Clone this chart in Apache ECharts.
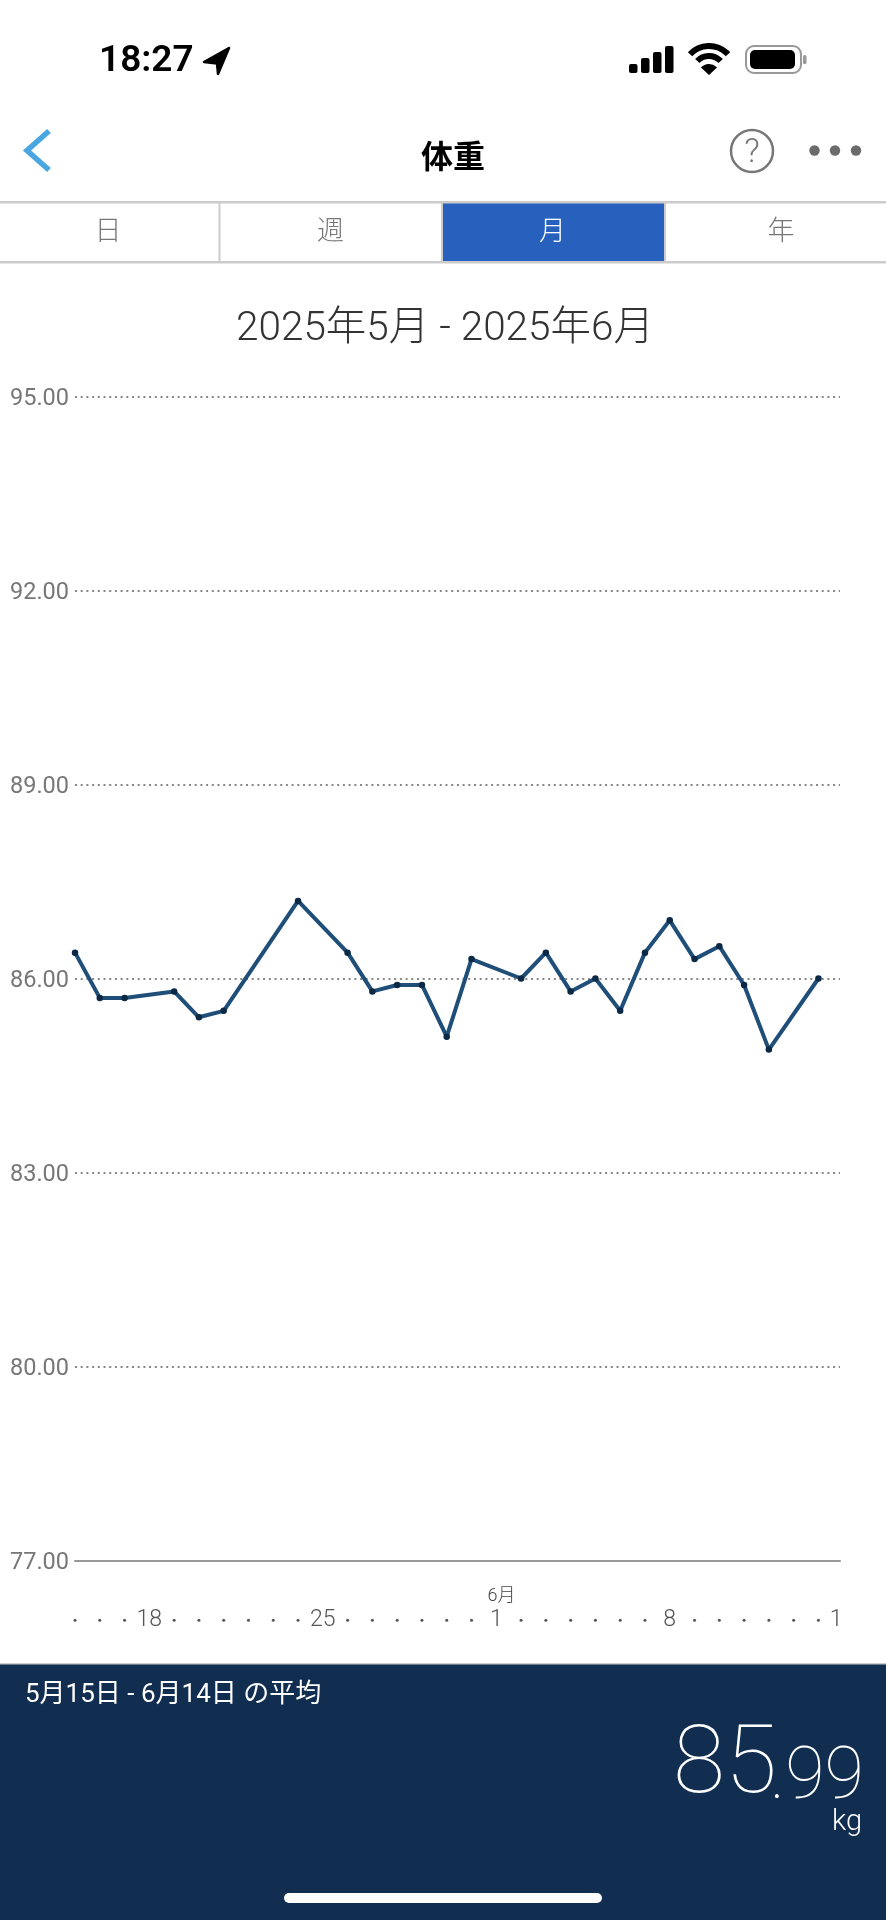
<!DOCTYPE html>
<html><head><meta charset="utf-8">
<style>html,body{margin:0;padding:0;background:#fff}#c{width:886px;height:1920px}</style>
<script src="https://cdn.jsdelivr.net/npm/echarts@6/dist/echarts.min.js"></script>
</head><body><div id="c"></div>
<script>
// day offset from 15 May 2025
const measuredDays = [0,1,2,4,5,6,9,11,12,13,14,15,16,18,19,20,21,22,23,24,25,26,27,28,30];
const weights = [86.4,85.7,85.7,85.8,85.4,85.5,87.2,86.4,85.8,85.9,85.9,85.1,86.3,86.0,86.4,85.8,86.0,85.5,86.4,86.9,86.3,86.5,85.9,84.9,86.0];
const yTicks = [77,80,83,86,89,92,95];
const xTickPositions = [0,1,2,3,4,5,6,7,8,9,10,11,12,13,14,15,16,17,18,19,20,21,22,23,24,25,26,27,28,29,30,30.71];
const xTickLabels = ['','','','18','','','','','','','25','','','','','','','1','','','','','','','8','','','','','','','1'];
const tabs = ['日','週','月','年'];
const titleText = '2025年5月 - 2025年6月';
const rangeText = '5月15日 - 6月14日 の平均';
const avgWhole = '85', avgFraction = '.99', avgUnit = 'kg';

const LAT = '"Roboto","Noto Sans CJK JP",sans-serif';
const gfx = [];
const rect=(x,y,w,h,fill,r)=>gfx.push({type:'rect',shape:{x,y,width:w,height:h,r:r||0},style:{fill},silent:true});
const text=(x,y,t,size,fill,align,weight,base)=>gfx.push({type:'text',x,y,silent:true,style:{text:t,fontSize:size,fill,align:align||'center',verticalAlign:base||'middle',fontWeight:weight||300,fontFamily:LAT}});

// status bar
text(99,62,'18:27',37,'#000','left',600);
gfx.push({type:'polygon',shape:{points:[[229,48],[204,62],[217,63.5],[218,74]]},style:{fill:'#000',stroke:'#000',lineWidth:2.5,lineJoin:'round'},silent:true});
[[629,9],[641,15],[653,21],[665,27]].forEach(([x,h])=>rect(x,73-h,8.5,h,'#000',2));
[26,16].forEach(r=>gfx.push({type:'arc',shape:{cx:709,cy:72,r,startAngle:-Math.PI*0.76,endAngle:-Math.PI*0.24},style:{stroke:'#000',fill:'none',lineWidth:6},silent:true}));
gfx.push({type:'sector',shape:{cx:709,cy:75,r0:0,r:11,startAngle:-Math.PI*0.76,endAngle:-Math.PI*0.24},style:{fill:'#000'},silent:true});
gfx.push({type:'rect',shape:{x:746,y:46,width:55,height:27,r:8},style:{fill:'#fff',stroke:'#999',lineWidth:2},silent:true});
rect(750,50,45,19,'#000',5);
rect(803,55,3.5,9,'#999',1.5);

// nav bar
gfx.push({type:'polyline',shape:{points:[[49,131],[27,150.5],[49,170]]},style:{stroke:'#4aa6e0',fill:'none',lineWidth:5.5},silent:true});
text(453,160,'体重',32,'#000','center',700);
gfx.push({type:'circle',shape:{cx:752,cy:151,r:21},style:{stroke:'#777',fill:'none',lineWidth:2.5},silent:true});
text(752,153,'?',34,'#777','center',300);
[814.5,835,856].forEach(cx=>gfx.push({type:'circle',shape:{cx,cy:150.5,r:5.2},style:{fill:'#6b6b6b'},silent:true}));

// tabs
rect(442,203,222,58,'#2860bd');
rect(0,201,886,2.5,'#cccccc');
rect(0,261,886,2.5,'#cccccc');
[218.5,441,664].forEach(x=>rect(x,203,2,58,'#cccccc'));
const tabX=[108,330.5,552.5,781];
tabs.forEach((t,i)=>text(tabX[i],233,t,27,i===2?'#fff':'#777','center',300));

// 6月 marker over the 1 June tick
text(501.5,1596,'6月',18,'#444','center',300);

// bottom panel
rect(0,1664,886,256,'#112e51');
rect(0,1663,886,1.5,'#cccccc');
text(25,1695,rangeText,26,'#fff','left',400);
text(777,1816,avgWhole,95,'#fff','right',100,'bottom');
text(864,1816,avgFraction,72,'#fff','right',100,'bottom');
text(862,1823,avgUnit,29,'#fff','right',300);
rect(284,1893,318,10,'#fff',5);

const chart = echarts.init(document.getElementById('c'));
chart.setOption({
  animation:false,
  backgroundColor:'#fff',
  title:{text:titleText,left:440,top:325,textAlign:'center',textVerticalAlign:'middle',
    textStyle:{fontSize:40.5,fontWeight:300,color:'#333',fontFamily:LAT}},
  grid:{left:75,top:396.7,width:765,height:1163.6,containLabel:false},
  xAxis:{type:'value',min:0,max:30.87,
    axisLine:{show:true,onZero:false,lineStyle:{color:'#999',width:2}},
    axisTick:{show:false},splitLine:{show:false},
    axisLabel:{customValues:xTickPositions,hideOverlap:false,showMinLabel:true,showMaxLabel:true,
      margin:60,verticalAlign:'middle',fontSize:23,color:'#555',fontWeight:300,fontFamily:LAT,
      formatter:v=>xTickLabels[xTickPositions.indexOf(v)]||'{d|}',
      rich:{d:{width:3,height:3,backgroundColor:'#555',borderRadius:1.5}}}},
  yAxis:{type:'value',min:77,max:95,
    axisLine:{show:false},
    axisTick:{show:false,customValues:yTicks},
    axisLabel:{customValues:yTicks,margin:6,
      formatter:v=>'{v|'+v.toFixed(2)+'}',
      rich:{v:{fontSize:23.5,color:'#777',fontWeight:400,fontFamily:LAT,padding:[5,0,0,0]}}},
    splitLine:{show:true,showMinLine:false,lineStyle:{color:'#888',width:2,type:[2,3.7]}}},
  series:[{type:'line',data:measuredDays.map((d,i)=>[d,weights[i]]),
    symbol:'circle',symbolSize:6.5,showAllSymbol:true,clip:false,
    lineStyle:{color:'#1f4e79',width:4},itemStyle:{color:'#0b2845'}}],
  graphic:gfx
});
</script></body></html>
